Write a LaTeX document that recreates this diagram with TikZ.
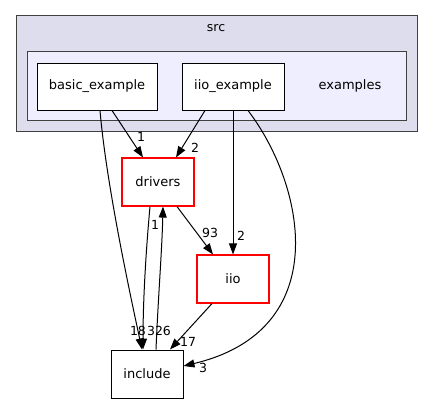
\documentclass[tikz,border=0pt]{standalone}
\usepackage{fontspec}
\setmainfont{DejaVu Sans}
\usetikzlibrary{arrows.meta,calc}
\definecolor{srcfill}{HTML}{DDDDEE}
\definecolor{exfill}{HTML}{EEEEFF}
\definecolor{edgegray}{HTML}{404040}
\begin{document}
\begin{tikzpicture}[x=1pt,y=-1pt,
  dirbox/.style={draw=black,fill=white,line width=1pt,inner sep=0pt,font=\fontsize{13}{15}\selectfont},
  redbox/.style={draw=red,fill=white,line width=1.1pt,inner sep=0pt,font=\fontsize{13}{15}\selectfont},
  cluster/.style={draw=edgegray,line width=1pt,inner sep=0pt},
  dep/.style={draw=black,line width=1pt,-{Triangle[length=11pt,width=8pt]}},
  lbl/.style={font=\fontsize{12.5}{14}\selectfont,inner sep=0pt}]
\useasboundingbox (0,0) rectangle (433,404);
\node[cluster,fill=srcfill,minimum width=401pt,minimum height=115pt] (src) at (216.5,73.5) {};
\node[lbl,font=\fontsize{12.5}{14}\selectfont] (srclbl) at (216,28) {src};
\node[cluster,fill=exfill,minimum width=379pt,minimum height=68pt] (ex) at (216.5,86) {};
\node[lbl,font=\fontsize{13}{15}\selectfont] (exlbl) at (350,86) {examples};
\node[dirbox,minimum width=120pt,minimum height=47pt] (basic) at (97,86.5) {basic\_example};
\node[dirbox,minimum width=102pt,minimum height=47pt] (iioex) at (233,86.5) {iio\_example};
\node[redbox,minimum width=72pt,minimum height=48pt] (drivers) at (158,182) {drivers};
\node[redbox,minimum width=72pt,minimum height=48pt] (iio) at (233,279) {iio};
\node[dirbox,minimum width=72pt,minimum height=48pt] (include) at (147,374) {include};
% edges
\draw[dep] ($(basic.south)+(15,0)$) -- ($(drivers.north)+(-15,0)$);
\node[lbl] (l1) at (141,137) {1};
\draw[dep] ($(basic.south)+(3,0)$) .. controls (106,180) and (127,280) .. ($(include.north)+(-5,0)$);
\node[lbl] (l18) at (138,331) {18};
\draw[dep] ($(iioex.south)+(-28,0)$) -- ($(drivers.north)+(18,0)$);
\node[lbl] (l2a) at (195,148) {2};
\draw[dep] (iioex.south) -- (iio.north);
\node[lbl] (l2b) at (241,236) {2};
\draw[dep] ($(iioex.south)+(15,0)$) .. controls (305,185) and (335,330) .. ($(include.east)+(0,-8)$);
\node[lbl] (l3) at (203,368) {3};
\draw[dep] ($(drivers.south)+(19,0)$) -- ($(iio.north)+(-20,0)$);
\node[lbl] (l93) at (210,233) {93};
\draw[dep] ($(drivers.south)+(-8,0)$) .. controls (146,250) and (143,300) .. ($(include.north)+(-4,0)$);
\node[lbl] (l326) at (159,331) {326};
\draw[dep] ($(include.north)+(9,0)$) .. controls (158,300) and (162,250) .. ($(drivers.south)+(5,0)$);
\node[lbl] (l1b) at (155,225) {1};
\draw[dep] ($(iio.south)+(-21,0)$) -- ($(include.north)+(23,0)$);
\node[lbl] (l17) at (188,342) {17};
\end{tikzpicture}
\end{document}
